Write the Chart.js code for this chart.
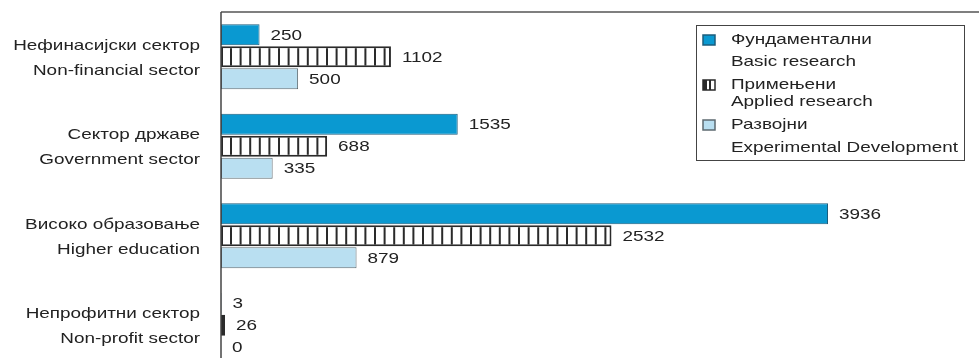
<!DOCTYPE html>
<html>
<head>
<meta charset="utf-8">
<script src="https://cdn.jsdelivr.net/npm/chart.js@4/dist/chart.umd.min.js"></script>
<style>
html,body{margin:0;padding:0;background:#fff;overflow:hidden;width:979px;height:358px;}
#wrap{position:absolute;left:0;top:0;width:979px;height:370px;}
</style>
</head>
<body>
<div id="wrap"><canvas id="c" width="979" height="370"></canvas></div>
<script>
const categories = [
  ["Нефинасијски сектор", "Non-financial sector"],
  ["Сектор државе", "Government sector"],
  ["Високо образовање", "Higher education"],
  ["Непрофитни сектор", "Non-profit sector"]
];
const basicResearch = [250, 1535, 3936, 3];
const appliedResearch = [1102, 688, 2532, 26];
const experimentalDevelopment = [500, 335, 879, 0];
const legendLabels = [
  ["Фундаментални", "Basic research"],
  ["Примењени", "Applied research"],
  ["Развојни", "Experimental Development"]
];

const FONT = '"Liberation Sans", Arial, Helvetica, sans-serif';
const AXIS_LEFT = 221;
const SX = 1.26;

function stretchedText(ctx, text, x, y, align) {
  ctx.save();
  ctx.translate(x, y);
  ctx.scale(SX, 1);
  ctx.textAlign = align;
  ctx.fillText(text, 0, 0);
  ctx.restore();
}

function makeHatch() {
  const w = 48, h = 10;
  const c = document.createElement('canvas');
  c.width = w; c.height = h;
  const x = c.getContext('2d');
  x.fillStyle = '#ffffff';
  x.fillRect(0, 0, w, h);
  x.fillStyle = '#2a2a2a';
  for (let i = 0; i < 5; i++) {
    x.fillRect(i * 9.6, 0, 2, h);
  }
  const p = x.createPattern(c, 'repeat');
  try { p.setTransform(new DOMMatrix().translate(AXIS_LEFT + 9, 0)); } catch (e) {}
  return p;
}
const hatch = makeHatch();

const BLUE = '#0a99d1', BLUE_BORDER = '#1b5d7c';
const LIGHT = '#b9dff1', LIGHT_BORDER = '#5d6a70';
const HATCH_BORDER = '#2a2a2a';

const categoryLabels = {
  id: 'categoryLabels',
  afterDraw(chart) {
    const ctx = chart.ctx, ys = chart.scales.y;
    ctx.save();
    ctx.font = '15px ' + FONT;
    ctx.fillStyle = '#222';
    ctx.textBaseline = 'middle';
    chart.data.labels.forEach((lbl, i) => {
      const y = ys.getPixelForValue(i);
      stretchedText(ctx, lbl[0], 200, y - 11, 'right');
      stretchedText(ctx, lbl[1], 200, y + 14, 'right');
    });
    ctx.restore();
  }
};

const valueLabels = {
  id: 'valueLabels',
  afterDatasetsDraw(chart) {
    const ctx = chart.ctx;
    ctx.save();
    ctx.font = '15px ' + FONT;
    ctx.fillStyle = '#222';
    ctx.textBaseline = 'middle';
    chart.data.datasets.forEach((ds, di) => {
      const meta = chart.getDatasetMeta(di);
      meta.data.forEach((el, i) => {
        stretchedText(ctx, String(ds.data[i]), el.x + 11, el.y + 1, 'left');
      });
    });
    ctx.restore();
  }
};

const frameLines = {
  id: 'frameLines',
  afterDraw(chart) {
    const ctx = chart.ctx, a = chart.chartArea;
    ctx.save();
    ctx.strokeStyle = '#555';
    ctx.lineWidth = 1.5;
    ctx.beginPath();
    ctx.moveTo(a.left, a.top);
    ctx.lineTo(chart.width, a.top);
    ctx.stroke();
    ctx.strokeStyle = '#444';
    ctx.beginPath();
    ctx.moveTo(a.left, a.top);
    ctx.lineTo(a.left, chart.height);
    ctx.stroke();
    ctx.restore();
  }
};

const boxLegend = {
  id: 'boxLegend',
  afterDraw(chart) {
    const ctx = chart.ctx;
    ctx.save();
    const bx = 696, by = 25, bw = 268, bh = 135;
    ctx.fillStyle = '#fff';
    ctx.fillRect(bx, by, bw, bh);
    ctx.strokeStyle = '#444';
    ctx.lineWidth = 1;
    ctx.strokeRect(bx + 0.5, by + 0.5, bw, bh);
    const fills = [BLUE, '#fff', LIGHT];
    const borders = [BLUE_BORDER, HATCH_BORDER, LIGHT_BORDER];
    const rows = [[40, 62], [85, 102], [125, 148]];
    ctx.font = '15px ' + FONT;
    ctx.textBaseline = 'middle';
    legendLabels.forEach((lbl, i) => {
      const sy = rows[i][0] - 5;
      ctx.fillStyle = fills[i];
      ctx.fillRect(703, sy, 12, 10);
      if (i === 1) {
        ctx.fillStyle = '#2a2a2a';
        ctx.fillRect(703, sy, 4, 10);
        ctx.fillRect(709, sy, 2, 10);
      }
      ctx.strokeStyle = borders[i];
      ctx.lineWidth = 1.5;
      ctx.strokeRect(703, sy, 12, 10);
      ctx.fillStyle = '#222';
      stretchedText(ctx, lbl[0], 731, rows[i][0], 'left');
      stretchedText(ctx, lbl[1], 731, rows[i][1], 'left');
    });
    ctx.restore();
  }
};

new Chart(document.getElementById('c'), {
  type: 'bar',
  data: {
    labels: categories,
    datasets: [
      { label: legendLabels[0].join(' '), data: basicResearch, backgroundColor: BLUE, borderColor: BLUE_BORDER, borderWidth: 1, borderSkipped: false },
      { label: legendLabels[1].join(' '), data: appliedResearch, backgroundColor: hatch, borderColor: HATCH_BORDER, borderWidth: 2, borderSkipped: false },
      { label: legendLabels[2].join(' '), data: experimentalDevelopment, backgroundColor: LIGHT, borderColor: LIGHT_BORDER, borderWidth: 1, borderSkipped: false }
    ]
  },
  options: {
    indexAxis: 'y',
    responsive: false,
    animation: false,
    devicePixelRatio: 1,
    categoryPercentage: 0.74,
    barPercentage: 0.95,
    layout: { padding: { left: 0, top: 12, right: 64, bottom: 0 } },
    plugins: { legend: { display: false }, tooltip: { enabled: false } },
    scales: {
      x: { display: false, min: 0, max: 4500 },
      y: {
        afterFit(scale) {
          scale.width = AXIS_LEFT;
          scale.paddingTop = 0; scale.paddingBottom = 0;
          scale.paddingLeft = 0; scale.paddingRight = 0;
        },
        grid: { display: false, drawTicks: false },
        border: { display: false },
        ticks: { display: false }
      }
    }
  },
  plugins: [valueLabels, frameLines, categoryLabels, boxLegend]
});
</script>
</body>
</html>
